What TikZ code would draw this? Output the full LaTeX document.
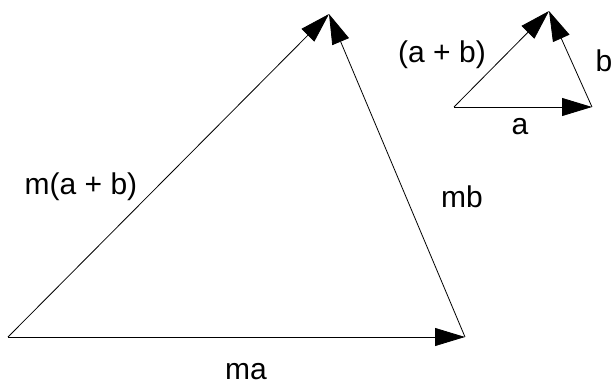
\documentclass[tikz,border=0pt]{standalone}
\usepackage{fontspec}
\setmainfont{Liberation Sans}
\usetikzlibrary{arrows.meta}

\begin{document}
\begin{tikzpicture}[
    x=1pt, y=-1pt,
    vec/.style={-{Triangle[length=30pt, width=18pt]}, line width=0.8pt},
    lbl/.style={font=\fontsize{30}{36}\selectfont, anchor=base, inner sep=0pt}
  ]
    \useasboundingbox (0,0) rectangle (614,385);

    % big triangle
    \coordinate (bigO) at (8,337);
    \coordinate (bigA) at (465,337);
    \coordinate (bigB) at (329,14);
    % small triangle
    \coordinate (smO) at (454,107);
    \coordinate (smA) at (592,107);
    \coordinate (smB) at (549,11);

    \draw[vec] (bigO) -- (bigA);
    \draw[vec] (bigA) -- (bigB);
    \draw[vec] (bigO) -- (bigB);

    \draw[vec] (smO) -- (smA);
    \draw[vec] (smA) -- (smB);
    \draw[vec] (smO) -- (smB);

    \node[lbl] (labMA)  at (246,379) {ma};
    \node[lbl] (labMB)  at (462,208) {mb};
    \node[lbl] (labMAB) at (81,195)  {m(a + b)};
    \node[lbl] (labA)   at (520,135) {a};
    \node[lbl] (labB)   at (604,72)  {b};
    \node[lbl] (labAB)  at (442,63)  {(a + b)};
\end{tikzpicture}
\end{document}
